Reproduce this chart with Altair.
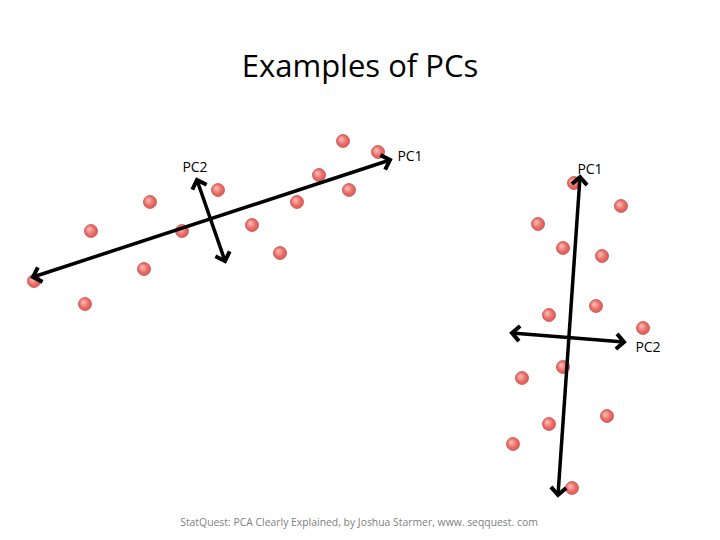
import math
import altair as alt
import pandas as pd

# Point positions (page pixel coordinates)
left_x = [343, 378, 319, 349, 218, 150, 297, 91, 182, 252, 280, 144, 34, 85]
left_y = [141, 152, 175, 190, 190, 202, 202, 231, 231, 225, 253, 269, 281, 304]
right_x = [574, 621, 538, 563, 602, 596, 549, 643, 563, 522, 607, 549, 513, 572]
right_y = [183, 206, 224, 248, 256, 306, 315, 328, 367, 378, 416, 424, 444, 488]

# Double-headed arrows: start and end
arrow_name = ["L-PC1", "L-PC2", "R-PC1", "R-PC2"]
arrow_x1 = [33, 197, 580, 512]
arrow_y1 = [277, 180, 177, 333]
arrow_x2 = [390, 225, 558, 624]
arrow_y2 = [160, 261, 495, 342]

label_text = ["PC2", "PC1", "PC1", "PC2"]
label_x = [195, 410, 590, 648]
label_y = [168, 157, 170, 348]

title_text = "Examples of PCs"
footer_text = "StatQuest: PCA Clearly Explained, by Joshua Starmer, www. seqquest. com"

pts = pd.DataFrame({"x": left_x + right_x, "y": left_y + right_y})
arrows = pd.DataFrame({"name": arrow_name, "x1": arrow_x1, "y1": arrow_y1,
                       "x2": arrow_x2, "y2": arrow_y2})

heads = []
for _, r in arrows.iterrows():
    for (tx, ty, fx, fy) in [(r.x2, r.y2, r.x1, r.y1), (r.x1, r.y1, r.x2, r.y2)]:
        dx, dy = tx - fx, ty - fy
        ang = math.degrees(math.atan2(dx, -dy)) % 360
        heads.append({"x": tx, "y": ty, "angle": ang})
heads = pd.DataFrame(heads)
labels = pd.DataFrame({"t": label_text, "x": label_x, "y": label_y})
texts = pd.DataFrame({"t": [title_text, footer_text], "x": [360, 359], "y": [68, 523],
                      "size": [31, 10.4], "color": ["#000000", "#808080"]})

W, H = 704, 524
xs = alt.Scale(domain=[8, 8 + W], nice=False, zero=False)
ys = alt.Scale(domain=[8 + H, 8], nice=False, zero=False)
X = lambda f="x": alt.X(f, type="quantitative", scale=xs, axis=None)
Y = lambda f="y": alt.Y(f, type="quantitative", scale=ys, axis=None)

points = alt.Chart(pts).mark_point(
    filled=True, size=170, strokeWidth=0.8, stroke="#c85a55", opacity=1,
    fill=alt.Gradient(gradient="radial", x1=0.35, y1=0.35, r1=0.05,
                      x2=0.5, y2=0.5, r2=0.6,
                      stops=[alt.GradientStop(color="#fbb8b2", offset=0),
                             alt.GradientStop(color="#ea6b65", offset=0.55),
                             alt.GradientStop(color="#d5534e", offset=1)])
).encode(x=X(), y=Y())

shafts = alt.Chart(arrows).mark_rule(color="black", strokeWidth=3.5).encode(
    x=X("x1"), y=Y("y1"), x2="x2", y2="y2")

chev = alt.Chart(heads).mark_point(
    shape="M -1 1 L 0 0 L 1 1", filled=False, color="black", strokeWidth=4,
    size=230, opacity=1, strokeJoin="miter"
).encode(x=X(), y=Y(), angle=alt.Angle("angle:Q", scale=None))

lab = alt.Chart(labels).mark_text(font="Open Sans", fontSize=14, color="black").encode(
    x=X(), y=Y(), text="t:N")

tt = alt.Chart(texts).mark_text(font="Open Sans").encode(
    x=X(), y=Y(), text="t:N",
    size=alt.Size("size:Q", scale=None, legend=None),
    color=alt.Color("color:N", scale=None, legend=None))

chart = alt.layer(points, shafts, chev, lab, tt).properties(
    width=W, height=H, padding=0, autosize="none", background="white"
).configure_view(stroke=None)

chart.save("out.html", embed_options={"renderer": "svg", "actions": False})
